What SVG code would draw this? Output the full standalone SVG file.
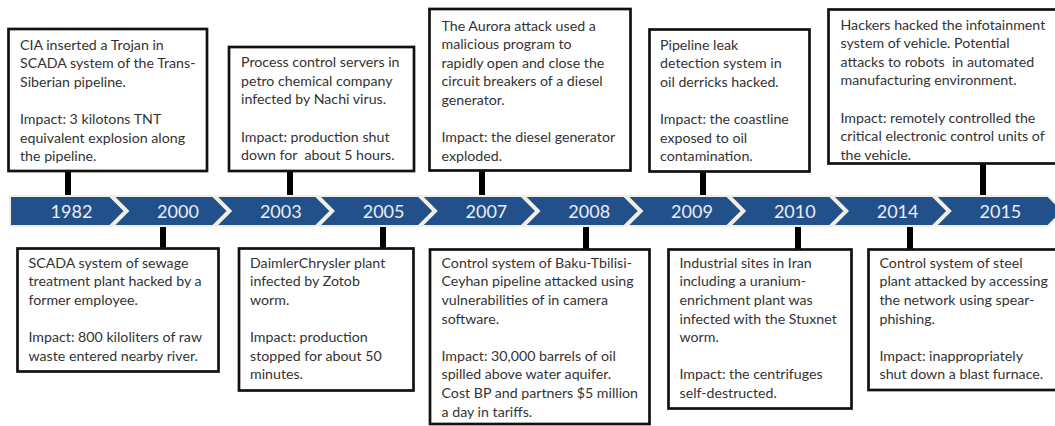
<svg xmlns="http://www.w3.org/2000/svg" width="1055" height="426" viewBox="0 0 1055 426">
<style>
.box{fill:#fff;stroke:#111;stroke-width:2.7}
.stem{stroke:#000;stroke-width:6}
.chev{fill:#22508a;stroke:#f1eee3;stroke-width:2}
.yr{font-family:Lato,"Liberation Sans",sans-serif;font-size:18px;fill:#e9eef5;text-anchor:middle}
.t{font-family:Lato,"Liberation Sans",sans-serif;font-size:14.2px;fill:#333}
</style>
<rect width="1055" height="426" fill="#fff"/>
<g id="connectors">
<line class="stem" x1="68" y1="171" x2="68" y2="197"/>
<line class="stem" x1="290" y1="171" x2="290" y2="197"/>
<line class="stem" x1="482" y1="171" x2="482" y2="197"/>
<line class="stem" x1="703" y1="171" x2="703" y2="197"/>
<line class="stem" x1="983" y1="163" x2="983" y2="197"/>
<line class="stem" x1="163" y1="225" x2="163" y2="249"/>
<line class="stem" x1="383" y1="225" x2="383" y2="249"/>
<line class="stem" x1="586" y1="225" x2="586" y2="249"/>
<line class="stem" x1="798" y1="225" x2="798" y2="249"/>
<line class="stem" x1="910" y1="225" x2="910" y2="249"/>
</g>
<g id="timeline">
<path class="chev" d="M10,196 H110 L125,211 L110,226 H10 Z"/>
<path class="chev" d="M113,196 H213 L228,211 L213,226 H113 L128,211 Z"/>
<path class="chev" d="M215.8,196 H315.8 L330.8,211 L315.8,226 H215.8 L230.8,211 Z"/>
<path class="chev" d="M318.6,196 H418.6 L433.6,211 L418.6,226 H318.6 L333.6,211 Z"/>
<path class="chev" d="M421.4,196 H521.4 L536.4,211 L521.4,226 H421.4 L436.4,211 Z"/>
<path class="chev" d="M524.2,196 H624.2 L639.2,211 L624.2,226 H524.2 L539.2,211 Z"/>
<path class="chev" d="M627,196 H727 L742,211 L727,226 H627 L642,211 Z"/>
<path class="chev" d="M729.8,196 H829.8 L844.8,211 L829.8,226 H729.8 L744.8,211 Z"/>
<path class="chev" d="M832.6,196 H932.6 L947.6,211 L932.6,226 H832.6 L847.6,211 Z"/>
<path class="chev" d="M935.4,196 H1048 L1063,211 L1048,226 H935.4 L950.4,211 Z"/>
<text class="yr" x="71.5" y="217.5">1982</text>
<text class="yr" x="178" y="217.5">2000</text>
<text class="yr" x="280.8" y="217.5">2003</text>
<text class="yr" x="383.6" y="217.5">2005</text>
<text class="yr" x="486.4" y="217.5">2007</text>
<text class="yr" x="589.2" y="217.5">2008</text>
<text class="yr" x="692" y="217.5">2009</text>
<text class="yr" x="794.8" y="217.5">2010</text>
<text class="yr" x="897.6" y="217.5">2014</text>
<text class="yr" x="1000.4" y="217.5">2015</text>
</g>
<g id="e1982">
<rect class="box" x="8.5" y="29" width="198.5" height="142"/>
<text class="t" y="49.5"><tspan x="20">CIA inserted a Trojan in</tspan><tspan x="20" dy="18.6">SCADA system of the Trans-</tspan><tspan x="20" dy="18.6">Siberian pipeline.</tspan><tspan x="20" dy="37.2">Impact: 3 kilotons TNT</tspan><tspan x="20" dy="18.6">equivalent explosion along</tspan><tspan x="20" dy="18.6">the pipeline.</tspan></text>
</g>
<g id="e2003">
<rect class="box" x="229" y="47" width="185" height="124"/>
<text class="t" y="67.2" xml:space="preserve"><tspan x="241">Process control servers in</tspan><tspan x="241" dy="18.6">petro chemical company</tspan><tspan x="241" dy="18.6">infected by Nachi virus.</tspan><tspan x="241" dy="37.2">Impact: production shut</tspan><tspan x="241" dy="18.6">down for  about 5 hours.</tspan></text>
</g>
<g id="e2007">
<rect class="box" x="429.5" y="9" width="201" height="161.5"/>
<text class="t" y="30.5"><tspan x="441.5">The Aurora attack used a</tspan><tspan x="441.5" dy="18.6">malicious program to</tspan><tspan x="441.5" dy="18.6">rapidly open and close the</tspan><tspan x="441.5" dy="18.6">circuit breakers of a diesel</tspan><tspan x="441.5" dy="18.6">generator.</tspan><tspan x="441.5" dy="37.2">Impact: the diesel generator</tspan><tspan x="441.5" dy="18.6">exploded.</tspan></text>
</g>
<g id="e2009">
<rect class="box" x="649.5" y="29.5" width="160" height="142"/>
<text class="t" y="49.5"><tspan x="660">Pipeline leak</tspan><tspan x="660" dy="18.6">detection system in</tspan><tspan x="660" dy="18.6">oil derricks hacked.</tspan><tspan x="660" dy="37.2">Impact: the coastline</tspan><tspan x="660" dy="18.6">exposed to oil</tspan><tspan x="660" dy="18.6">contamination.</tspan></text>
</g>
<g id="e2015">
<rect class="box" x="828.5" y="9.5" width="230" height="154"/>
<text class="t" y="29.5" xml:space="preserve"><tspan x="840.5">Hackers hacked the infotainment</tspan><tspan x="840.5" dy="18.6">system of vehicle. Potential</tspan><tspan x="840.5" dy="18.6">attacks to robots  in automated</tspan><tspan x="840.5" dy="18.6">manufacturing environment.</tspan><tspan x="840.5" dy="37.2">Impact: remotely controlled the</tspan><tspan x="840.5" dy="18.6">critical electronic control units of</tspan><tspan x="840.5" dy="18.6">the vehicle.</tspan></text>
</g>
<g id="e2000">
<rect class="box" x="17.5" y="248.5" width="201" height="123"/>
<text class="t" y="267.8"><tspan x="28.5">SCADA system of sewage</tspan><tspan x="28.5" dy="18.6">treatment plant hacked by a</tspan><tspan x="28.5" dy="18.6">former employee.</tspan><tspan x="28.5" dy="37.2">Impact: 800 kiloliters of raw</tspan><tspan x="28.5" dy="18.6">waste entered nearby river.</tspan></text>
</g>
<g id="e2005">
<rect class="box" x="239" y="248.5" width="174.5" height="142"/>
<text class="t" y="267.8"><tspan x="250">DaimlerChrysler plant</tspan><tspan x="250" dy="18.6">infected by Zotob</tspan><tspan x="250" dy="18.6">worm.</tspan><tspan x="250" dy="37.2">Impact: production</tspan><tspan x="250" dy="18.6">stopped for about 50</tspan><tspan x="250" dy="18.6">minutes.</tspan></text>
</g>
<g id="e2008">
<rect class="box" x="430" y="249.5" width="219.5" height="174.5"/>
<text class="t" y="267.8"><tspan x="441.5">Control system of Baku-Tbilisi-</tspan><tspan x="441.5" dy="18.6">Ceyhan pipeline attacked using</tspan><tspan x="441.5" dy="18.6">vulnerabilities of in camera</tspan><tspan x="441.5" dy="18.6">software.</tspan><tspan x="441.5" dy="37.2">Impact: 30,000 barrels of oil</tspan><tspan x="441.5" dy="18.6">spilled above water aquifer.</tspan><tspan x="441.5" dy="18.6">Cost BP and partners $5 million</tspan><tspan x="441.5" dy="18.6">a day in tariffs.</tspan></text>
</g>
<g id="e2010">
<rect class="box" x="668.5" y="249.5" width="183" height="159"/>
<text class="t" y="267.8"><tspan x="679.5">Industrial sites in Iran</tspan><tspan x="679.5" dy="18.6">including a uranium-</tspan><tspan x="679.5" dy="18.6">enrichment plant was</tspan><tspan x="679.5" dy="18.6">infected with the Stuxnet</tspan><tspan x="679.5" dy="18.6">worm.</tspan><tspan x="679.5" dy="37.2">Impact: the centrifuges</tspan><tspan x="679.5" dy="18.6">self-destructed.</tspan></text>
</g>
<g id="e2014">
<rect class="box" x="868.5" y="249.5" width="190" height="140.5"/>
<text class="t" y="267.8"><tspan x="879.5">Control system of steel</tspan><tspan x="879.5" dy="18.6">plant attacked by accessing</tspan><tspan x="879.5" dy="18.6">the network using spear-</tspan><tspan x="879.5" dy="18.6">phishing.</tspan><tspan x="879.5" dy="37.2">Impact: inappropriately</tspan><tspan x="879.5" dy="18.6">shut down a blast furnace.</tspan></text>
</g>
</svg>
